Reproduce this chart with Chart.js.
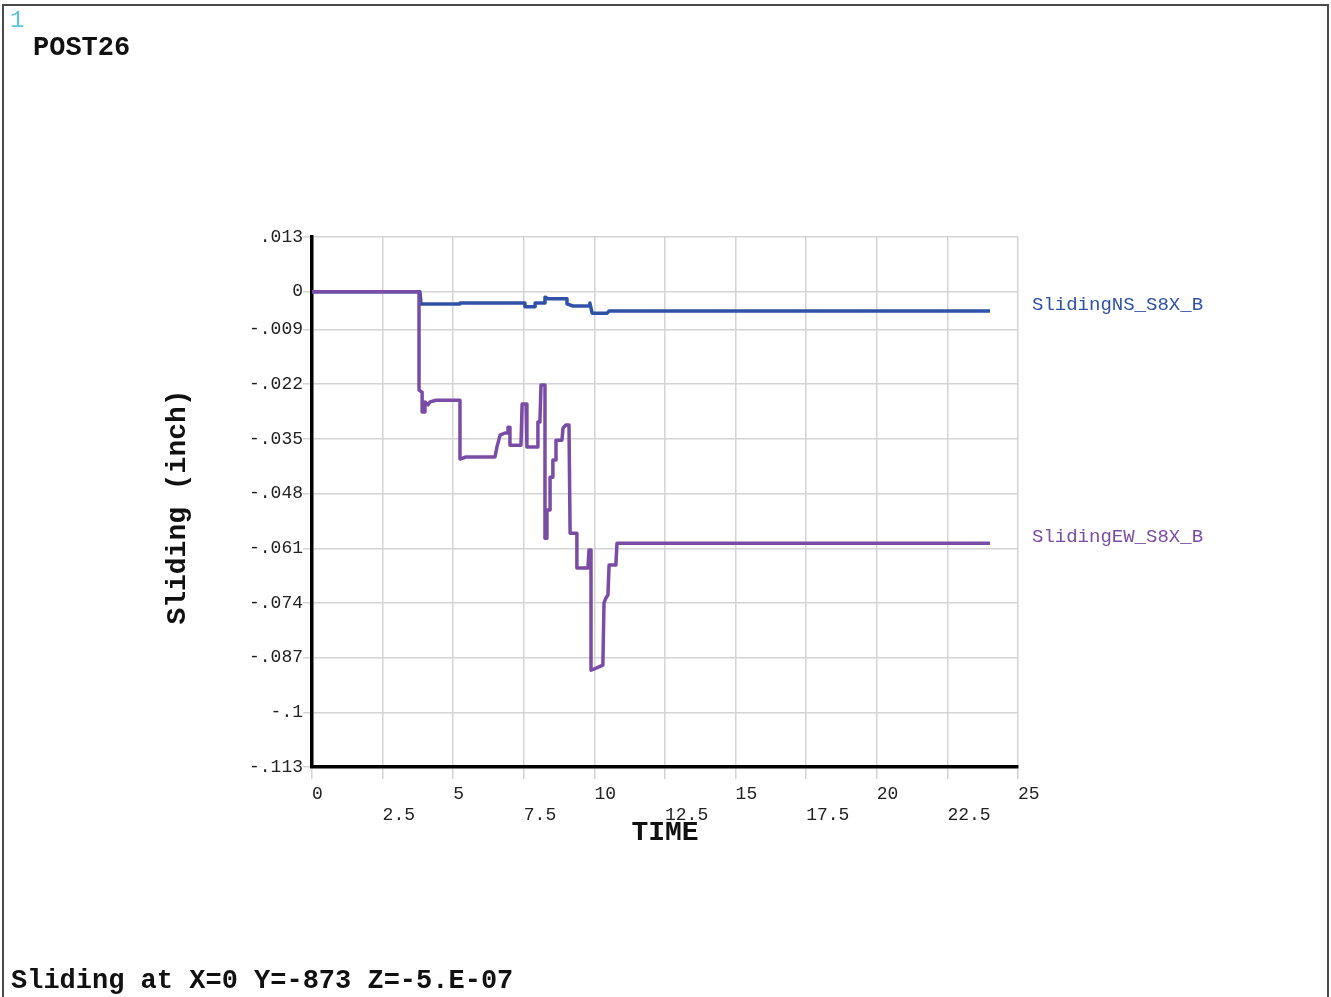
<!DOCTYPE html>
<html>
<head>
<meta charset="utf-8">
<script src="https://cdn.jsdelivr.net/npm/chart.js@4/dist/chart.umd.min.js"></script>
<style>
html,body{margin:0;padding:0;background:#fff;overflow:hidden;}
canvas{display:block;}
</style>
</head>
<body>
<canvas id="c" width="1331" height="997"></canvas>
<script>
// ---- data ----
const ewName = 'SlidingEW_S8X_B';
const nsName = 'SlidingNS_S8X_B';

const ewTime = [0, 3.79, 3.79, 3.90, 3.90, 4.00, 4.00, 4.11, 4.18, 4.39, 5.17, 5.24, 5.24, 5.45, 6.48, 6.55, 6.66, 6.83, 6.94, 6.94, 7.01, 7.01, 7.40, 7.44, 7.58, 7.61, 7.97, 8.00, 8.07, 8.11, 8.25, 8.25, 8.32, 8.32, 8.43, 8.43, 8.53, 8.53, 8.64, 8.64, 8.85, 8.89, 8.99, 9.10, 9.14, 9.38, 9.38, 9.77, 9.81, 9.88, 9.88, 10.06, 10.30, 10.34, 10.41, 10.48, 10.52, 10.76, 10.80, 24.01];
const ewSlide = [0, 0, -0.0234, -0.0239, -0.0286, -0.0286, -0.0262, -0.0269, -0.0262, -0.0258, -0.0258, -0.0258, -0.0398, -0.0393, -0.0393, -0.0369, -0.0341, -0.0336, -0.0336, -0.0322, -0.0322, -0.0365, -0.0365, -0.0267, -0.0267, -0.0369, -0.0369, -0.0310, -0.0310, -0.0222, -0.0222, -0.0586, -0.0586, -0.0519, -0.0519, -0.0441, -0.0441, -0.0400, -0.0400, -0.0353, -0.0353, -0.0324, -0.0317, -0.0317, -0.0574, -0.0574, -0.0657, -0.0657, -0.0614, -0.0614, -0.0900, -0.0895, -0.0888, -0.0740, -0.0728, -0.0721, -0.0650, -0.0650, -0.0598, -0.0598];

const nsTime = [0, 3.82, 3.86, 5.24, 5.24, 7.54, 7.54, 7.90, 7.90, 8.22, 8.25, 8.36, 9.03, 9.03, 9.24, 9.84, 9.84, 9.92, 10.45, 10.52, 24.01];
const nsSlide = [0, 0, -0.0029, -0.0029, -0.0027, -0.0027, -0.0036, -0.0036, -0.0027, -0.0027, -0.0013, -0.0017, -0.0017, -0.0029, -0.0034, -0.0034, -0.0027, -0.0051, -0.0051, -0.0046, -0.0046];

const yTickValues = [0.013, 0, -0.009, -0.022, -0.035, -0.048, -0.061, -0.074, -0.087, -0.1, -0.113];
const yTickLabels = ['.013', '0', '-.009', '-.022', '-.035', '-.048', '-.061', '-.074', '-.087', '-.1', '-.113'];
const xTickValues = [0, 2.5, 5, 7.5, 10, 12.5, 15, 17.5, 20, 22.5, 25];
const xTickLabels = ['0', '2.5', '5', '7.5', '10', '12.5', '15', '17.5', '20', '22.5', '25'];

const titleText = 'POST26';
const windowNum = '1';
const xTitle = 'TIME';
const yTitle = 'Sliding (inch)';
const footText = 'Sliding at X=0 Y=-873 Z=-5.E-07';

// ---- styles ----
const EW_COLOR = '#7a4ca6';
const NS_COLOR = '#2f51a7';
const MONO = '"Liberation Mono", "DejaVu Sans Mono", monospace';

const toPts = (xs, ys) => xs.map((x, i) => ({x: x, y: ys[i]}));

const decor = {
  id: 'decor',
  beforeDraw(chart) {
    const ctx = chart.ctx;
    ctx.save();
    ctx.fillStyle = '#fff';
    ctx.fillRect(0, 0, chart.width, chart.height);
    ctx.restore();
  },
  afterDraw(chart) {
    const ctx = chart.ctx;
    const ca = chart.chartArea;
    const ys = chart.scales.y;
    ctx.save();
    // frame
    ctx.strokeStyle = '#4a4a4a';
    ctx.lineWidth = 2;
    ctx.beginPath();
    ctx.moveTo(3, 1000);
    ctx.lineTo(3, 5);
    ctx.lineTo(1328, 5);
    ctx.lineTo(1328, 1000);
    ctx.stroke();
    // window number
    ctx.fillStyle = '#5cc6df';
    ctx.font = '24px ' + MONO;
    ctx.textBaseline = 'middle';
    ctx.textAlign = 'left';
    ctx.fillText(windowNum, 10, 21);
    // title
    ctx.fillStyle = '#111';
    ctx.font = 'bold 27px ' + MONO;
    ctx.fillText(titleText, 33, 48);
    // footer
    ctx.font = 'bold 27px ' + MONO;
    ctx.fillText(footText, 11, 981);
    // x title
    ctx.textAlign = 'center';
    ctx.font = 'bold 28px ' + MONO;
    ctx.fillText(xTitle, (ca.left + ca.right) / 2, 833);
    // y title
    ctx.save();
    ctx.translate(178, (ca.top + ca.bottom) / 2 + 5);
    ctx.rotate(-Math.PI / 2);
    ctx.fillText(yTitle, 0, 0);
    ctx.restore();
    // series labels
    ctx.textAlign = 'left';
    ctx.font = '19px ' + MONO;
    ctx.fillStyle = NS_COLOR;
    ctx.fillText(nsName, ca.right + 14, ys.getPixelForValue(nsSlide[nsSlide.length - 1]) - 6);
    ctx.fillStyle = EW_COLOR;
    ctx.fillText(ewName, ca.right + 14, ys.getPixelForValue(ewSlide[ewSlide.length - 1]) - 6);
    ctx.restore();
  }
};

new Chart(document.getElementById('c'), {
  type: 'line',
  data: {
    datasets: [
      {label: ewName, data: toPts(ewTime, ewSlide), borderColor: EW_COLOR, borderWidth: 3.5, borderJoinStyle: 'round', pointRadius: 0, tension: 0, fill: false},
      {label: nsName, data: toPts(nsTime, nsSlide), borderColor: NS_COLOR, borderWidth: 3.5, borderJoinStyle: 'round', pointRadius: 0, tension: 0, fill: false}
    ]
  },
  options: {
    responsive: false,
    animation: false,
    events: [],
    layout: {padding: {left: 0, top: 237, right: 313, bottom: 0}},
    plugins: {legend: {display: false}, tooltip: {enabled: false}, title: {display: false}},
    scales: {
      x: {
        type: 'linear', position: 'bottom', min: 0, max: 25,
        afterBuildTicks: s => { s.ticks = xTickValues.map(v => ({value: v})); },
        afterFit: s => { s.height = 230; },
        ticks: {
          autoSkip: false, maxRotation: 0, minRotation: 0, align: 'start', padding: 4,
          color: '#222', font: {family: MONO, size: 18},
          callback: (v, i) => (i % 2 === 0 ? xTickLabels[i] : ['', xTickLabels[i]])
        },
        grid: {color: '#d4d4d4', lineWidth: 1.5, tickLength: 12, tickColor: '#d4d4d4', drawOnChartArea: true},
        border: {display: true, color: '#000', width: 3.5}
      },
      y: {
        type: 'linear', position: 'left', min: -0.113, max: 0.013,
        afterBuildTicks: s => { s.ticks = yTickValues.map(v => ({value: v})); },
        afterFit: s => { s.width = 312; },
        ticks: {
          autoSkip: false, padding: 0,
          color: '#222', font: {family: MONO, size: 18},
          callback: (v, i) => yTickLabels[i]
        },
        grid: {color: '#d4d4d4', lineWidth: 1.5, tickLength: 9, tickColor: '#d4d4d4'},
        border: {display: true, color: '#000', width: 3.5}
      }
    }
  },
  plugins: [decor]
});
</script>
</body>
</html>
